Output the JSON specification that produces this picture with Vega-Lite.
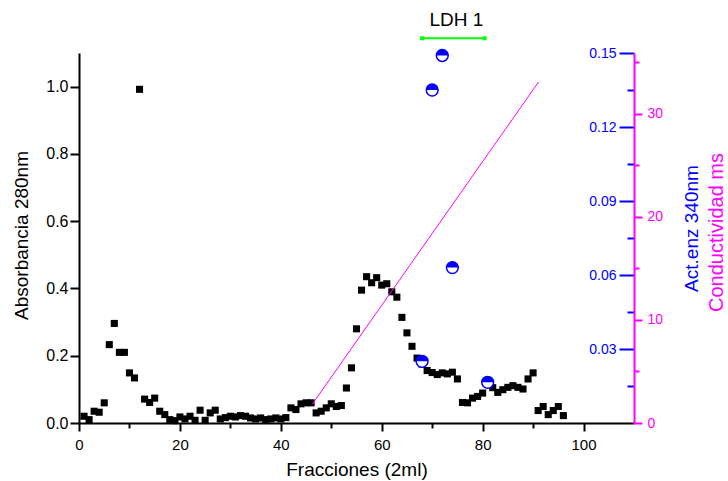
{
  "$schema": "https://vega.github.io/schema/vega-lite/v6.json",
  "width": 555,
  "height": 370,
  "autosize": {"type": "none"},
  "padding": {"left": 79, "top": 53, "right": 94, "bottom": 58},
  "background": "white",
  "config": {
    "view": {"stroke": null},
    "axis": {
      "grid": false,
      "labelFont": "Liberation Sans",
      "titleFont": "Liberation Sans",
      "titleFontWeight": "normal",
      "domainWidth": 2,
      "tickWidth": 2,
      "labelFontSize": 16,
      "titleFontSize": 19,
      "labelFlush": false,
      "labelOverlap": false,
      "labelColor": "black",
      "titleColor": "black",
      "domainColor": "black",
      "tickColor": "black"
    }
  },
  "datasets": {
    "abs": [
      {"fraccion": 1, "abs": 0.020}, {"fraccion": 2, "abs": 0.010}, {"fraccion": 3, "abs": 0.035}, {"fraccion": 4, "abs": 0.032},
      {"fraccion": 5, "abs": 0.060}, {"fraccion": 6, "abs": 0.233}, {"fraccion": 7, "abs": 0.296}, {"fraccion": 8, "abs": 0.210},
      {"fraccion": 9, "abs": 0.210}, {"fraccion": 10, "abs": 0.149}, {"fraccion": 11, "abs": 0.134}, {"fraccion": 12, "abs": 0.992},
      {"fraccion": 13, "abs": 0.071}, {"fraccion": 14, "abs": 0.061}, {"fraccion": 15, "abs": 0.074}, {"fraccion": 16, "abs": 0.035},
      {"fraccion": 17, "abs": 0.025}, {"fraccion": 18, "abs": 0.010}, {"fraccion": 19, "abs": 0.007}, {"fraccion": 20, "abs": 0.018},
      {"fraccion": 21, "abs": 0.012}, {"fraccion": 22, "abs": 0.020}, {"fraccion": 23, "abs": 0.008}, {"fraccion": 24, "abs": 0.038},
      {"fraccion": 25, "abs": 0.008}, {"fraccion": 26, "abs": 0.030}, {"fraccion": 27, "abs": 0.038}, {"fraccion": 28, "abs": 0.012},
      {"fraccion": 29, "abs": 0.016}, {"fraccion": 30, "abs": 0.020}, {"fraccion": 31, "abs": 0.018}, {"fraccion": 32, "abs": 0.022},
      {"fraccion": 33, "abs": 0.020}, {"fraccion": 34, "abs": 0.015}, {"fraccion": 35, "abs": 0.012}, {"fraccion": 36, "abs": 0.015},
      {"fraccion": 37, "abs": 0.010}, {"fraccion": 38, "abs": 0.012}, {"fraccion": 39, "abs": 0.015}, {"fraccion": 40, "abs": 0.012},
      {"fraccion": 41, "abs": 0.016}, {"fraccion": 42, "abs": 0.045}, {"fraccion": 43, "abs": 0.040}, {"fraccion": 44, "abs": 0.057},
      {"fraccion": 45, "abs": 0.060}, {"fraccion": 46, "abs": 0.060}, {"fraccion": 47, "abs": 0.030}, {"fraccion": 48, "abs": 0.035},
      {"fraccion": 49, "abs": 0.045}, {"fraccion": 50, "abs": 0.057}, {"fraccion": 51, "abs": 0.049}, {"fraccion": 52, "abs": 0.052},
      {"fraccion": 53, "abs": 0.104}, {"fraccion": 54, "abs": 0.164}, {"fraccion": 55, "abs": 0.280}, {"fraccion": 56, "abs": 0.395},
      {"fraccion": 57, "abs": 0.435}, {"fraccion": 58, "abs": 0.417}, {"fraccion": 59, "abs": 0.432}, {"fraccion": 60, "abs": 0.410},
      {"fraccion": 61, "abs": 0.414}, {"fraccion": 62, "abs": 0.390}, {"fraccion": 63, "abs": 0.374}, {"fraccion": 64, "abs": 0.314},
      {"fraccion": 65, "abs": 0.268}, {"fraccion": 66, "abs": 0.228}, {"fraccion": 67, "abs": 0.193}, {"fraccion": 68, "abs": 0.175},
      {"fraccion": 69, "abs": 0.156}, {"fraccion": 70, "abs": 0.150}, {"fraccion": 71, "abs": 0.144}, {"fraccion": 72, "abs": 0.149},
      {"fraccion": 73, "abs": 0.146}, {"fraccion": 74, "abs": 0.151}, {"fraccion": 75, "abs": 0.131}, {"fraccion": 76, "abs": 0.061},
      {"fraccion": 77, "abs": 0.060}, {"fraccion": 78, "abs": 0.074}, {"fraccion": 79, "abs": 0.079}, {"fraccion": 80, "abs": 0.089},
      {"fraccion": 81, "abs": 0.115}, {"fraccion": 82, "abs": 0.105}, {"fraccion": 83, "abs": 0.091}, {"fraccion": 84, "abs": 0.099},
      {"fraccion": 85, "abs": 0.106}, {"fraccion": 86, "abs": 0.111}, {"fraccion": 87, "abs": 0.106}, {"fraccion": 88, "abs": 0.101},
      {"fraccion": 89, "abs": 0.131}, {"fraccion": 90, "abs": 0.149}, {"fraccion": 91, "abs": 0.037}, {"fraccion": 92, "abs": 0.049},
      {"fraccion": 93, "abs": 0.025}, {"fraccion": 94, "abs": 0.037}, {"fraccion": 95, "abs": 0.049}, {"fraccion": 96, "abs": 0.022}
    ],
    "enz": [
      {"fraccion": 68, "act": 0.025},
      {"fraccion": 70, "act": 0.135},
      {"fraccion": 72, "act": 0.149},
      {"fraccion": 74, "act": 0.063},
      {"fraccion": 81, "act": 0.0165}
    ],
    "cond": [
      {"fraccion": 46.2, "cond": 1.8},
      {"fraccion": 91.1, "cond": 33.1}
    ],
    "ldh": [
      {"fraccion": 68, "y": 1.1437},
      {"fraccion": 80.4, "y": 1.1437}
    ],
    "etiqueta": [
      {"fraccion": 74.8, "y": 1.1795, "texto": "LDH 1"}
    ]
  },
  "layer": [
    {
      "layer": [
        {
          "data": {"name": "abs"},
          "mark": {"type": "square", "size": 50, "color": "black", "opacity": 1},
          "encoding": {
            "x": {
              "field": "fraccion", "type": "quantitative",
              "scale": {"domain": [0, 110], "nice": false, "zero": false},
              "axis": {
                "orient": "bottom",
                "values": [0, 10, 20, 30, 40, 50, 60, 70, 80, 90, 100],
                "labelExpr": "datum.value % 20 === 0 ? datum.label : ''",
                "tickSize": {"condition": {"test": "datum.value % 20 === 0", "value": 8}, "value": 5},
                "labelPadding": 6,
                "labelFontSize": 15,
                "title": "Fracciones (2ml)",
                "titleY": 52,
                "titleBaseline": "alphabetic"
              }
            },
            "y": {
              "field": "abs", "type": "quantitative",
              "scale": {"domain": [0, 1.1], "nice": false},
              "axis": {
                "orient": "left",
                "values": [0, 0.1, 0.2, 0.3, 0.4, 0.5, 0.6, 0.7, 0.8, 0.9, 1.0],
                "format": ".1f",
                "labelExpr": "round(datum.value * 10) % 2 === 0 ? datum.label : ''",
                "tickSize": {"condition": {"test": "round(datum.value * 10) % 2 === 0", "value": 9}, "value": 5},
                "labelPadding": 2,
                "title": "Absorbancia 280nm",
                "titleX": -58,
                "titleY": 182,
                "titleAngle": -90,
                "titleAlign": "center",
                "titleBaseline": "middle"
              }
            }
          }
        },
        {
          "data": {"name": "ldh"},
          "mark": {"type": "line", "color": "#00ff00", "strokeWidth": 2, "clip": false,
                   "point": {"shape": "square", "size": 16, "filled": true, "color": "#00ff00", "opacity": 1}},
          "encoding": {
            "x": {"field": "fraccion", "type": "quantitative"},
            "y": {"field": "y", "type": "quantitative"}
          }
        },
        {
          "data": {"name": "etiqueta"},
          "mark": {"type": "text", "fontSize": 19, "font": "Liberation Sans", "baseline": "alphabetic", "align": "center", "clip": false, "color": "black"},
          "encoding": {
            "x": {"field": "fraccion", "type": "quantitative"},
            "y": {"field": "y", "type": "quantitative"},
            "text": {"field": "texto"}
          }
        }
      ]
    },
    {
      "data": {"name": "enz"},
      "encoding": {
        "x": {"field": "fraccion", "type": "quantitative"},
        "y": {
          "field": "act", "type": "quantitative",
          "scale": {"domain": [0, 0.15], "nice": false},
          "axis": {
            "orient": "left",
            "offset": -555,
            "values": [0.015, 0.03, 0.045, 0.06, 0.075, 0.09, 0.105, 0.12, 0.135, 0.15],
            "format": ".2f",
            "labelExpr": "round(datum.value * 1000) % 30 === 0 ? datum.label : ''",
            "tickSize": {"condition": {"test": "round(datum.value * 1000) % 30 === 0", "value": 15}, "value": 7},
            "domain": false,
            "tickColor": "#0000ff",
            "labelColor": "#0000ff",
            "labelFontSize": 14,
            "labelPadding": 3,
            "title": "Act.enz 340nm",
            "titleColor": "#0000ff",
            "titleX": 57,
            "titleY": 175,
            "titleAngle": -90,
            "titleAlign": "center",
            "titleBaseline": "middle"
          }
        }
      },
      "layer": [
        {"mark": {"type": "point", "shape": "circle", "size": 140, "filled": true, "fill": "white", "stroke": "#0000ff", "strokeWidth": 1.5, "opacity": 1}},
        {"mark": {"type": "point", "shape": "M-1,0A1,1,0,0,1,1,0Z", "size": 140, "filled": true, "fill": "#0000ff", "strokeWidth": 0, "opacity": 1}}
      ]
    },
    {
      "data": {"name": "cond"},
      "mark": {"type": "line", "color": "#ff00ff", "strokeWidth": 1},
      "encoding": {
        "x": {"field": "fraccion", "type": "quantitative"},
        "y": {
          "field": "cond", "type": "quantitative",
          "scale": {"domain": [0, 35.9], "nice": false},
          "axis": {
            "orient": "right",
            "values": [0, 5, 10, 15, 20, 25, 30, 35],
            "format": "d",
            "labelExpr": "datum.value % 10 === 0 ? datum.label : ''",
            "tickSize": {"condition": {"test": "datum.value % 10 === 0", "value": 8}, "value": 5},
            "domainColor": "#ff00ff",
            "tickColor": "#ff00ff",
            "labelColor": "#ff00ff",
            "labelFontSize": 14,
            "labelPadding": 5,
            "title": "Conductividad ms",
            "titleColor": "#ff00ff",
            "titleFontSize": 20,
            "titleX": 82,
            "titleY": 179,
            "titleAngle": 270,
            "titleAlign": "center",
            "titleBaseline": "middle"
          }
        }
      }
    }
  ],
  "resolve": {"scale": {"y": "independent"}, "axis": {"y": "independent"}}
}
